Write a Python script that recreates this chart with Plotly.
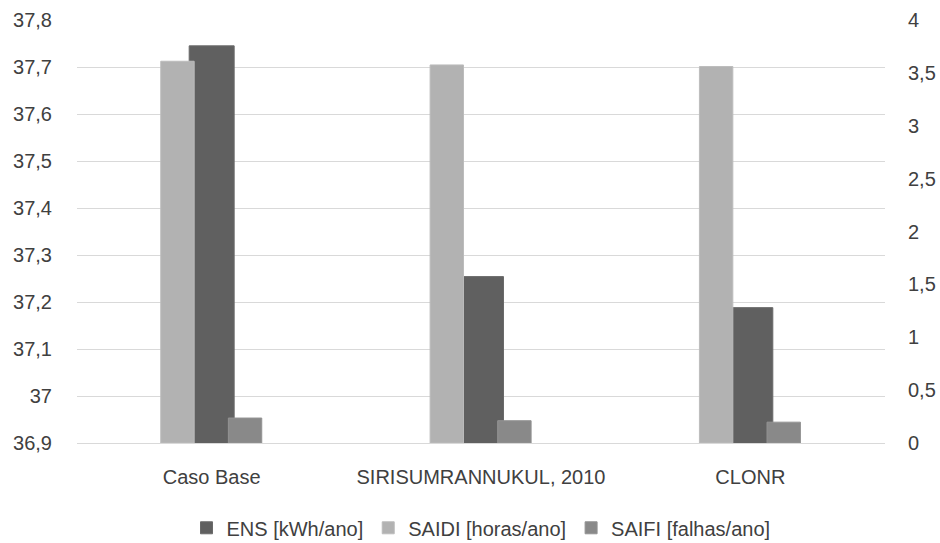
import plotly.graph_objects as go

categories = ["Caso Base", "SIRISUMRANNUKUL, 2010", "CLONR"]
ens = [37.745, 37.254, 37.188]      # kWh/ano (eixo esquerdo)
saidi = [3.61, 3.575, 3.56]         # horas/ano (eixo direito)
saifi = [0.236, 0.211, 0.197]       # falhas/ano (eixo direito)

left_ticks = [36.9, 37.0, 37.1, 37.2, 37.3, 37.4, 37.5, 37.6, 37.7, 37.8]
left_labels = ["36,9", "37", "37,1", "37,2", "37,3", "37,4", "37,5", "37,6", "37,7", "37,8"]
right_ticks = [0, 0.5, 1, 1.5, 2, 2.5, 3, 3.5, 4]
right_labels = ["0", "0,5", "1", "1,5", "2", "2,5", "3", "3,5", "4"]

FONT = "Liberation Sans"
TXT = "#404040"
FS = 20

fig = go.Figure()

fig.add_trace(go.Bar(
    name="ENS [kWh/ano]", x=categories, y=ens, yaxis="y",
    marker=dict(color="#606060", line=dict(color="#6a6a6a", width=1)),
    width=0.167, offset=-0.0835,
))
fig.add_trace(go.Bar(
    name="SAIDI [horas/ano]", x=categories, y=saidi, yaxis="y2",
    marker=dict(color="#b2b2b2", line=dict(color="#bcbcbc", width=1)),
    width=0.124, offset=-0.189,
))
fig.add_trace(go.Bar(
    name="SAIFI [falhas/ano]", x=categories, y=saifi, yaxis="y2",
    marker=dict(color="#898989", line=dict(color="#939393", width=1)),
    width=0.124, offset=0.062,
))

fig.update_layout(
    width=940, height=543,
    margin=dict(l=77, r=55, t=20, b=100, autoexpand=False),
    paper_bgcolor="white", plot_bgcolor="white",
    barmode="overlay",
    separators=",.",
    font=dict(family=FONT, size=FS, color=TXT),
    showlegend=True,
    legend=dict(orientation="h", x=0.5, xanchor="center",
                yref="container", y=0.028, yanchor="middle",
                font=dict(family=FONT, size=FS, color=TXT),
                traceorder="normal", itemwidth=30, tracegroupgap=0),
    xaxis=dict(
        type="category", showgrid=False, zeroline=False,
        showline=True, linecolor="#d9d9d9", linewidth=1,
        ticks="", tickfont=dict(family=FONT, size=FS, color=TXT),
        ticklabelstandoff=16,
    ),
    yaxis=dict(
        range=[36.9, 37.8], tickvals=left_ticks, ticktext=left_labels,
        showgrid=True, gridcolor="#d9d9d9", gridwidth=1,
        zeroline=False, showline=False, ticks="",
        tickfont=dict(family=FONT, size=FS, color=TXT),
        ticklabelstandoff=24,
    ),
    yaxis2=dict(
        range=[0, 4], tickvals=right_ticks, ticktext=right_labels,
        overlaying="y", side="right", showgrid=False, zeroline=False,
        showline=False, ticks="",
        tickfont=dict(family=FONT, size=FS, color=TXT),
        ticklabelstandoff=22,
    ),
)

fig.write_html("out.html")
